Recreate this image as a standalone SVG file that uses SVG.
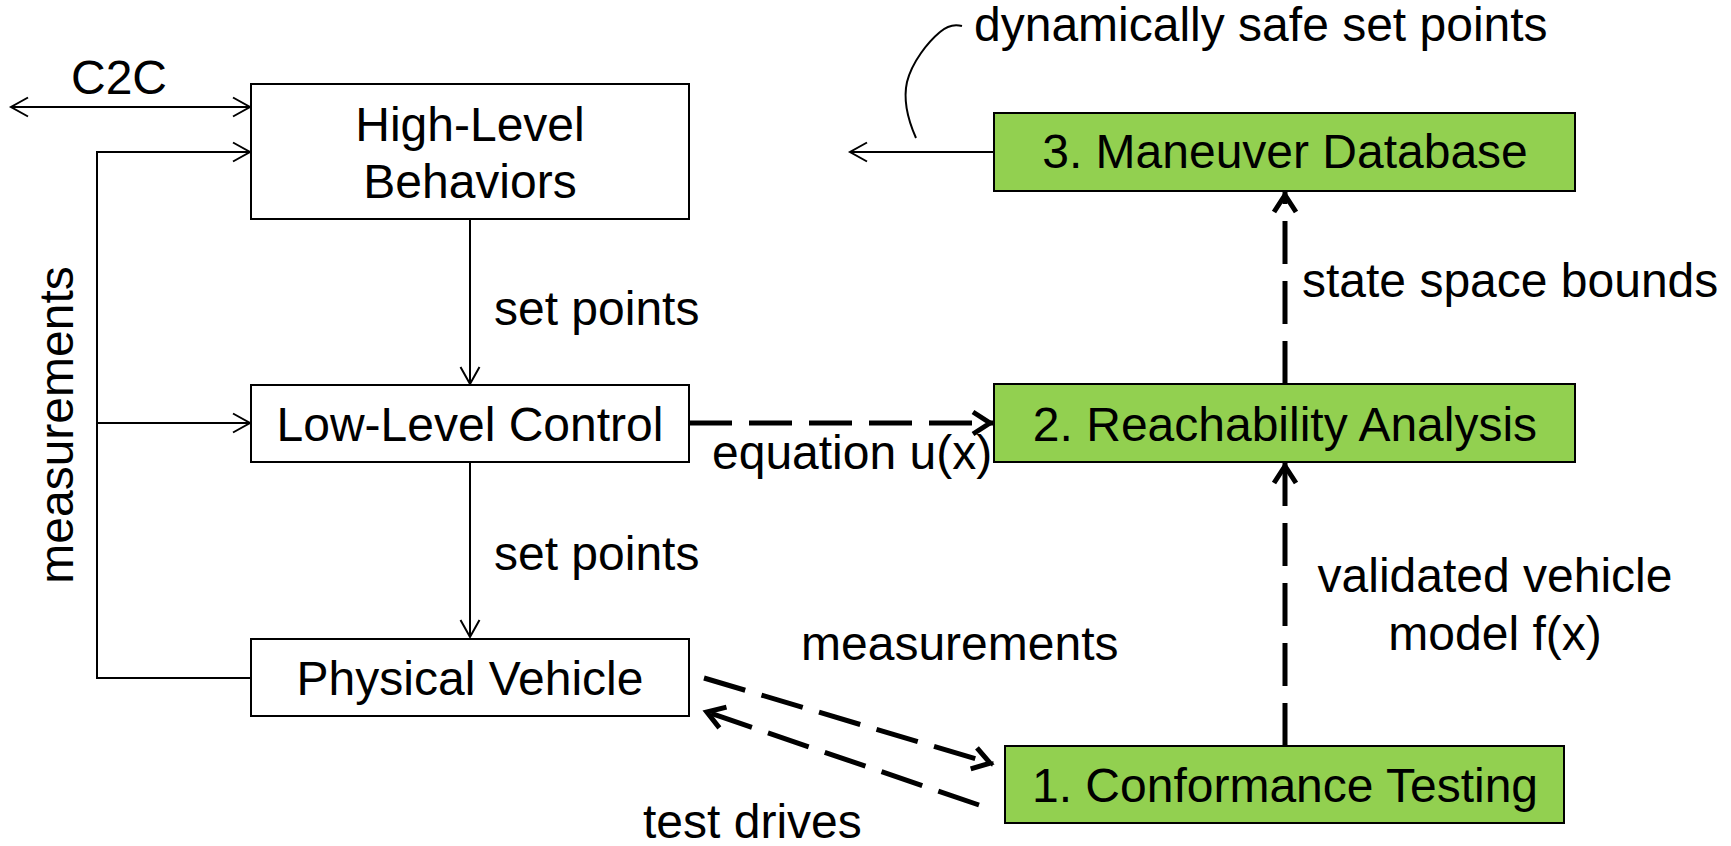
<svg xmlns="http://www.w3.org/2000/svg" width="1731" height="846" viewBox="0 0 1731 846">
  <style>
    text { font-family: "Liberation Sans", Arial, sans-serif; font-size: 48px; fill: #000; }
    .box { fill: #fff; stroke: #000; stroke-width: 2; }
    .green { fill: #92D050; stroke: #000; stroke-width: 2; }
    .thin { fill: none; stroke: #000; stroke-width: 2; }
    .dash { fill: none; stroke: #000; stroke-width: 5; stroke-dasharray: 43 17; }
    .mid { text-anchor: middle; }
  </style>
  <defs>
    <marker id="openThin" markerUnits="userSpaceOnUse" viewBox="-20 -12 24 24" refX="0" refY="0" markerWidth="24" markerHeight="24" orient="auto-start-reverse">
      <path d="M -17 -9.5 L 0 0 L -17 9.5" fill="none" stroke="#000" stroke-width="2" stroke-dasharray="none"/>
    </marker>
    <marker id="openThick" markerUnits="userSpaceOnUse" viewBox="-26 -16 32 32" refX="0" refY="0" markerWidth="32" markerHeight="32" orient="auto-start-reverse">
      <path d="M -20 -11 L -3 0 L -20 11" fill="none" stroke="#000" stroke-width="5" stroke-dasharray="none"/>
    </marker>
  </defs>

  <!-- connectors -->
  <g id="connectors">
    <!-- car-to-car communication -->
    <line class="thin" x1="11" y1="107" x2="250" y2="107" marker-start="url(#openThin)" marker-end="url(#openThin)"/>
    <!-- measurement feedback loop -->
    <polyline class="thin" points="252,678 97,678 97,152 250,152" marker-end="url(#openThin)"/>
    <line class="thin" x1="97" y1="423" x2="250" y2="423" marker-end="url(#openThin)"/>
    <!-- set points down the control chain -->
    <line class="thin" x1="470" y1="219" x2="470" y2="384" marker-end="url(#openThin)"/>
    <line class="thin" x1="470" y1="462" x2="470" y2="637" marker-end="url(#openThin)"/>
    <!-- maneuver database output -->
    <line class="thin" x1="994" y1="152" x2="850" y2="152" marker-end="url(#openThin)"/>
    <path class="thin" d="M 916 138 C 908 120, 903 100, 907 82 C 912 62, 928 42, 940 32 C 948 25, 955 24, 962 26"/>
    <!-- verification pipeline -->
    <line class="dash" x1="689" y1="423" x2="993" y2="423" marker-end="url(#openThick)"/>
    <line class="dash" x1="1285" y1="746" x2="1285" y2="463" marker-end="url(#openThick)"/>
    <line class="dash" x1="1285" y1="384" x2="1285" y2="192" marker-end="url(#openThick)"/>
    <line class="dash" x1="704" y1="678" x2="993" y2="764" marker-end="url(#openThick)"/>
    <line class="dash" x1="979" y1="805" x2="704" y2="711" marker-end="url(#openThick)"/>
  </g>

  <!-- connector labels -->
  <g id="labels">
    <text x="119" y="94" class="mid">C2C</text>
    <text transform="translate(73,425) rotate(-90)" class="mid">measurements</text>
    <text x="494" y="325">set points</text>
    <text x="494" y="570">set points</text>
    <text x="712" y="469">equation u(x)</text>
    <text x="974" y="41">dynamically safe set points</text>
    <text x="1302" y="297">state space bounds</text>
    <text x="1495" y="592" class="mid">validated vehicle</text>
    <text x="1495" y="650" class="mid">model f(x)</text>
    <text x="801" y="660">measurements</text>
    <text x="643" y="838">test drives</text>
  </g>

  <g id="high-level-behaviors">
    <rect class="box" x="251" y="84" width="438" height="135"/>
    <text x="470" y="141" class="mid">High-Level</text>
    <text x="470" y="198" class="mid">Behaviors</text>
  </g>

  <g id="low-level-control">
    <rect class="box" x="251" y="385" width="438" height="77"/>
    <text x="470" y="441" class="mid">Low-Level Control</text>
  </g>

  <g id="physical-vehicle">
    <rect class="box" x="251" y="639" width="438" height="77"/>
    <text x="470" y="695" class="mid">Physical Vehicle</text>
  </g>

  <g id="maneuver-database">
    <rect class="green" x="994" y="113" width="581" height="78"/>
    <text x="1285" y="168" class="mid">3. Maneuver Database</text>
  </g>

  <g id="reachability-analysis">
    <rect class="green" x="994" y="384" width="581" height="78"/>
    <text x="1285" y="441" class="mid">2. Reachability Analysis</text>
  </g>

  <g id="conformance-testing">
    <rect class="green" x="1005" y="746" width="559" height="77"/>
    <text x="1285" y="802" class="mid">1. Conformance Testing</text>
  </g>
</svg>
